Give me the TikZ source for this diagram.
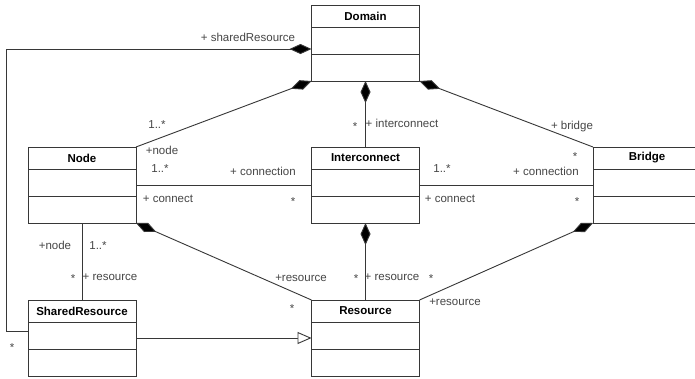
\documentclass[tikz,border=0pt]{standalone}
\usepackage{fontspec}
\setmainfont{Liberation Sans}
\usetikzlibrary{arrows.meta,calc}

\definecolor{umlline}{RGB}{55,55,55}
\definecolor{umltext}{RGB}{70,70,70}

\tikzset{
  classbox/.style={draw=umlline, line width=0.9pt, minimum width=108pt,
    minimum height=76pt, inner sep=0pt, outer sep=0pt},
  classtitle/.style={font=\bfseries\fontsize{11.5}{13}\selectfont, text=black, inner sep=0pt},
  classline/.style={draw=umlline, line width=0.9pt},
  assoc/.style={draw=umlline, line width=0.9pt},
  compo/.style={assoc, {Diamond[length=22pt,width=10pt,fill=black]}-},
  inherit/.style={assoc, -{Triangle[open,length=14pt,width=12pt,fill=white]}},
  lbl/.style={font=\fontsize{11.5}{13}\selectfont, text=umltext, inner sep=0pt, anchor=mid},
  mult/.style={lbl, yshift=-3pt},
}

% A UML class: name, left edge, top edge, title
\newcommand{\umlclass}[4]{%
  \node[classbox, anchor=north west] (#1) at (#2,#3) {};
  \node[classtitle] (#1-title) at ($(#1.north)+(0,11)$) {#4};
  \draw[classline] ($(#1.north west)+(0,22)$) -- ($(#1.north east)+(0,22)$);
  \draw[classline] ($(#1.north west)+(0,49)$) -- ($(#1.north east)+(0,49)$);
}

\begin{document}
\begin{tikzpicture}[x=1pt, y=-1pt]
  \useasboundingbox (0,0) rectangle (695,378);
  \clip (0,0) rectangle (695,378);
  \fill[white] (0,0) rectangle (695,378);

  % classes
  \umlclass{domain}{311.5}{5}{Domain}
  \umlclass{node}{28}{147}{Node}
  \umlclass{inter}{311.5}{147}{Interconnect}
  \umlclass{bridge}{593}{147}{Bridge}
  \umlclass{shared}{28}{300}{SharedResource}
  \umlclass{res}{311.5}{300}{Resource}

  % compositions owned by Domain
  \coordinate (dsh) at ($(domain.north west)+(0,44)$);
  \coordinate (srin) at ($(shared.north west)+(0,31)$);
  \draw[compo] (dsh) -- ++(-305.5,0) |- (srin);
  \draw[compo] (domain.south west) -- (node.north east);
  \draw[compo] (domain.south) -- (inter.north);
  \draw[compo] (domain.south east) -- (bridge.north west);

  % connections
  \draw[assoc] (node.east) -- (inter.west);
  \draw[assoc] (inter.east) -- (bridge.west);
  \draw[assoc] (node.south) -- (shared.north);

  % resources
  \draw[compo] (node.south east) -- (res.north west);
  \draw[compo] (inter.south) -- (res.north);
  \draw[compo] (bridge.south west) -- (res.north east);

  % generalisation
  \draw[inherit] (shared.east) -- (res.west);

  % role names and multiplicities
  \node[lbl] (l1) at (248,39) {+ sharedResource};
  \node[mult] (m1) at (12,346) {*};

  \node[lbl] (l2) at (157,126) {1..*};
  \node[lbl] (l3) at (162,152) {+node};

  \node[mult] (m2) at (355,125) {*};
  \node[lbl] (l4) at (402,125) {+ interconnect};

  \node[lbl] (l5) at (572,127) {+ bridge};
  \node[mult] (m3) at (575,155) {*};

  \node[lbl] (l6) at (160,170) {1..*};
  \node[lbl] (l7) at (263,173) {+ connection};
  \node[lbl] (l8) at (168,200) {+ connect};
  \node[mult] (m4) at (293,200) {*};

  \node[lbl] (l9) at (442,170) {1..*};
  \node[lbl] (l10) at (546,173) {+ connection};
  \node[lbl] (l11) at (450,200) {+ connect};
  \node[mult] (m5) at (577,200) {*};

  \node[lbl] (l12) at (55,247) {+node};
  \node[lbl] (l13) at (98,247) {1..*};
  \node[mult] (m6) at (73,277) {*};
  \node[lbl] (l14) at (110,278) {+ resource};

  \node[lbl] (l15) at (301,279) {+resource};
  \node[mult] (m7) at (292,307) {*};

  \node[mult] (m8) at (356,277) {*};
  \node[lbl] (l16) at (392,278) {+ resource};
  \node[mult] (m9) at (431,277) {*};

  \node[lbl] (l17) at (455,303) {+resource};
\end{tikzpicture}
\end{document}
